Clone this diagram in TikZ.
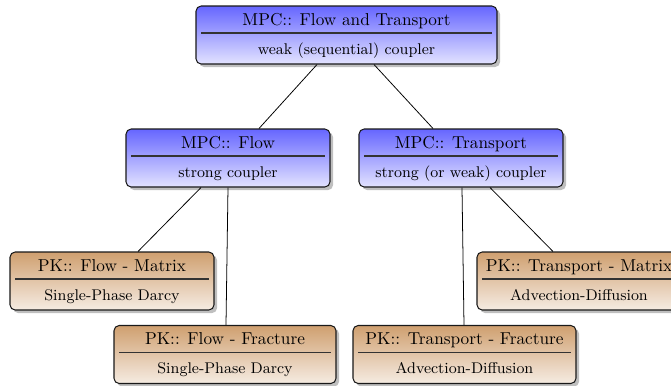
\documentclass[tikz,border=0pt]{standalone}
\usetikzlibrary{shadows,calc}
\newcommand\cardtext[3]{%
  \node[anchor=base] (#1t) at ($(#1.north)+(0,20)$) {#2};
  \draw[divider] ($(#1.north west)+(6,27.5)$) -- ($(#1.north east)+(-6,27.5)$);
  \node[anchor=base,font=\small] (#1s) at ($(#1.north)+(0,49)$) {#3};}
\begin{document}
\begin{tikzpicture}[x=0.58pt,y=-0.58pt,
  box/.style={draw=black!90, line width=0.6pt, rounded corners=3pt,
    minimum height=58*0.58pt, minimum width=#1*0.58pt, inner sep=0pt,
    drop shadow={shadow xshift=1.8pt, shadow yshift=-1.8pt, fill=black!50}},
  mpc/.style={box=#1, top color=blue!60, bottom color=blue!11},
  pk/.style={box=#1, top color=brown!75, bottom color=brown!15},
  divider/.style={draw=black!80, line width=0.6pt},
  edge/.style={draw=black, line width=0.45pt}]
\useasboundingbox (0,0) rectangle (671,385);
% boxes
\node[mpc=301] (top) at (346.5,35) {};
\node[mpc=204] (flow) at (228,158) {};
\node[mpc=204] (trans) at (461,158) {};
\node[pk=204] (pkfm) at (112,281) {};
\node[pk=204] (pktm) at (579,281) {};
\node[pk=222] (pkff) at (225,354.5) {};
\node[pk=223] (pktf) at (464.5,354.5) {};
% texts
\cardtext{top}{MPC:: Flow and Transport}{weak (sequential) coupler}
\cardtext{flow}{MPC:: Flow}{strong coupler}
\cardtext{trans}{MPC:: Transport}{strong (or weak) coupler}
\cardtext{pkfm}{PK:: Flow - Matrix}{Single-Phase Darcy}
\cardtext{pktm}{PK:: Transport - Matrix}{Advection-Diffusion}
\cardtext{pkff}{PK:: Flow - Fracture}{Single-Phase Darcy}
\cardtext{pktf}{PK:: Transport - Fracture}{Advection-Diffusion}
% connectors
\draw[edge] ([xshift=-29.5*0.58pt]top.south) -- ([xshift=31*0.58pt]flow.north);
\draw[edge] ([xshift=27.5*0.58pt]top.south) -- ([xshift=-28*0.58pt]trans.north);
\draw[edge] ([xshift=-27*0.58pt]flow.south) -- ([xshift=26*0.58pt]pkfm.north);
\draw[edge] (flow.south) -- ([xshift=1*0.58pt]pkff.north);
\draw[edge] ([xshift=1*0.58pt]trans.south) -- ([xshift=-0.5*0.58pt]pktf.north);
\draw[edge] ([xshift=29*0.58pt]trans.south) -- ([xshift=-26*0.58pt]pktm.north);
\end{tikzpicture}
\end{document}
